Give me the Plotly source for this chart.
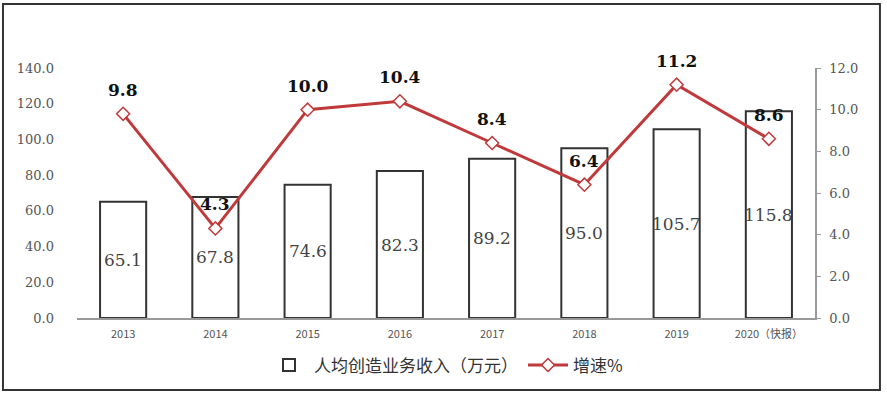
import plotly.graph_objects as go

categories = ["2013", "2014", "2015", "2016", "2017", "2018", "2019", "2020（快报）"]
income = [65.1, 67.8, 74.6, 82.3, 89.2, 95.0, 105.7, 115.8]
growth = [9.8, 4.3, 10.0, 10.4, 8.4, 6.4, 11.2, 8.6]
left_ticks = [0, 20, 40, 60, 80, 100, 120, 140]
right_ticks = [0, 2, 4, 6, 8, 10, 12]

serif = "DejaVu Serif, Liberation Serif, serif"
cjk = "Noto Sans CJK SC, sans-serif"

fig = go.Figure()
fig.add_trace(go.Bar(
    x=categories, y=income, name="人均创造业务收入（万元）",
    marker=dict(color="white", line=dict(color="#333333", width=2)),
    width=0.5,
    yaxis="y",
))
fig.add_trace(go.Scatter(
    x=categories, y=growth, name="增速%", mode="lines+markers",
    line=dict(color="#C0393B", width=3),
    marker=dict(symbol="diamond", size=10, color="white",
                line=dict(color="#C0393B", width=1.5)),
    cliponaxis=False,
    yaxis="y2",
))

# annotations on a category axis: use the category index so numeric-looking
# names such as "2013" are not read as positions
annotations = []
for i, v in enumerate(income):
    annotations.append(dict(x=i, y=v / 2, xref="x", yref="y", text=f"{v:.1f}",
                            showarrow=False,
                            font=dict(family=serif, size=17, color="#444444")))
for i, g in enumerate(growth):
    annotations.append(dict(x=i, y=g, xref="x", yref="y2", text=f"<b>{g:.1f}</b>",
                            showarrow=False, yshift=24,
                            font=dict(family=serif, size=17, color="#111111")))

fig.update_layout(
    width=887, height=397,
    margin=dict(l=77, r=72, t=68, b=79),
    paper_bgcolor="white", plot_bgcolor="white",
    showlegend=True,
    annotations=annotations,
    legend=dict(orientation="h", x=0.5, xanchor="center", y=-0.19, yanchor="middle",
                font=dict(family=cjk, size=17, color="#333333"),
                itemwidth=40, traceorder="normal"),
    xaxis=dict(type="category", categoryorder="array", categoryarray=categories,
               range=[-0.5, len(categories) - 0.5],
               showline=True, linecolor="#999999", linewidth=1.5, ticks="",
               ticklabelstandoff=5,
               tickfont=dict(family=cjk, size=11, color="#555555"), showgrid=False),
    yaxis=dict(range=[0, 140], tickvals=left_ticks,
               ticktext=[f"{v:.1f}" for v in left_ticks],
               showgrid=False, zeroline=False, showline=False, ticks="",
               ticklabelstandoff=22,
               tickfont=dict(family=serif, size=13, color="#555555")),
    yaxis2=dict(range=[0, 12], tickvals=right_ticks,
                ticktext=[f"{v:.1f}" for v in right_ticks],
                overlaying="y", side="right", showgrid=False, zeroline=False,
                showline=True, linecolor="#999999", linewidth=1.5,
                ticks="outside", ticklen=4, tickcolor="#999999",
                ticklabelstandoff=6,
                tickfont=dict(family=serif, size=13, color="#555555")),
    shapes=[dict(type="rect", xref="paper", yref="paper",
                 x0=-0.1003, x1=1.088, y0=-0.288, y1=1.256,
                 line=dict(color="#333333", width=2), fillcolor="rgba(0,0,0,0)")],
)

fig.write_html("out.html", config={"displayModeBar": False},
               post_script="document.body.style.margin='0';document.body.style.overflow='hidden';")
